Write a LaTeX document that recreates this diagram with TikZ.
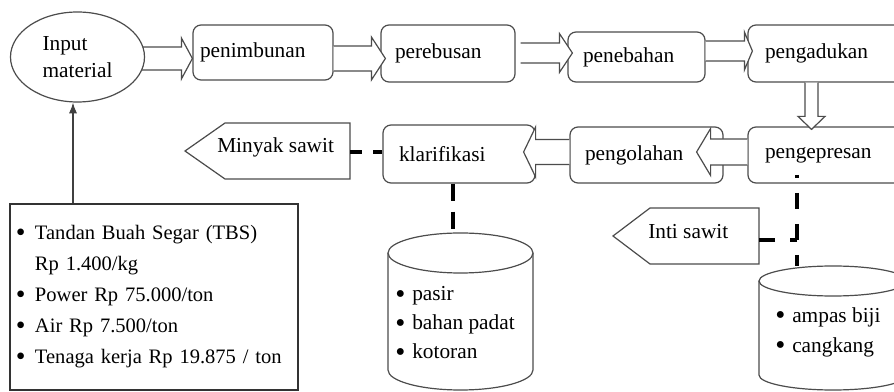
\documentclass[tikz,border=0pt]{standalone}
\usepackage{fontspec}
\setmainfont{Liberation Serif}
\usetikzlibrary{calc,arrows.meta,shapes.geometric}
\newcommand\mybul[1]{\makebox[#1][l]{\raisebox{-0.1em}{\scalebox{1.35}{•}}}}
\newcommand\barR[5]{\filldraw[blk] ($(#1)+(0,-#4)$) -- ($(#2)+(-#3,-#4)$) -- ($(#2)+(-#3,-#5)$) -- (#2) -- ($(#2)+(-#3,#5)$) -- ($(#2)+(-#3,#4)$) -- ($(#1)+(0,#4)$);}
\newcommand\barL[5]{\filldraw[blk] ($(#1)+(0,-#4)$) -- ($(#2)+(#3,-#4)$) -- ($(#2)+(#3,-#5)$) -- (#2) -- ($(#2)+(#3,#5)$) -- ($(#2)+(#3,#4)$) -- ($(#1)+(0,#4)$);}
\newcommand\barD[5]{\filldraw[blk] ($(#1)+(-#4,0)$) -- ($(#2)+(-#4,-#3)$) -- ($(#2)+(-#5,-#3)$) -- (#2) -- ($(#2)+(#5,-#3)$) -- ($(#2)+(#4,-#3)$) -- ($(#1)+(#4,0)$);}
\begin{document}
\begin{tikzpicture}[x=0.75pt,y=-0.75pt,
  every node/.style={font=\fontsize{16}{20}\selectfont, text=black},
  proc/.style={draw=black!70, line width=0.9pt, rounded corners=6pt, fill=white, align=left, inner ysep=0pt},
  blk/.style={draw=black!70, line width=0.9pt, fill=white, line join=miter},
  outl/.style={draw=black!70, line width=0.9pt, fill=white},
  dsh/.style={line width=2.3pt, draw=black},
]
\useasboundingbox (0,0) rectangle (894,392);
\clip (0,0) rectangle (894,392);
\fill[white] (0,0) rectangle (894,392);

% process boxes
\node[proc, minimum height=41.25pt, text width=94.5pt, inner xsep=5.25pt] (pnb) at (263,52.5) {penimbunan};
\node[proc, minimum height=42.75pt, text width=79.5pt, inner xsep=10.5pt] (pere) at (448,53.5) {perebusan};
\node[proc, minimum height=37.5pt, text width=80.25pt, inner xsep=11.25pt] (pebh) at (636.5,57) {penebahan};
\node[proc, minimum height=42.75pt, text width=111pt, inner xsep=12.75pt] (padk) at (839,53.5) {pengadukan};
\node[proc, minimum height=42pt, text width=111pt, inner xsep=12.75pt] (prs) at (839,155) {pengepresan};
\node[proc, minimum height=42pt, text width=92.25pt, inner xsep=11.25pt] (olh) at (646.5,155) {pengolahan};
\node[proc, minimum height=43.5pt, text width=90pt, inner xsep=12pt] (klar) at (459,154) {klarifikasi};

% block arrows
\coordinate (a1s) at (138,58.5);
\coordinate (a1t) at (pnb.west |- 0,58.5);
\barR{a1s}{a1t}{11}{11.5}{20.5}

\node[outl, ellipse, minimum width=100.5pt, minimum height=67.5pt, align=left, inner sep=0pt] (inp) at (77.5,57) {Input\\material};

\coordinate (a2s) at (pnb.east |- 0,58.5);
\coordinate (a2t) at ($(pere.west |- 0,58.5)+(5,0)$);
\barR{a2s}{a2t}{14}{12.5}{21.5}

\coordinate (a3s) at ($(pere.east |- 0,53)+(5,0)$);
\coordinate (a3t) at ($(pebh.west |- 0,53)+(5,0)$);
\barR{a3s}{a3t}{13}{10}{19.5}

\coordinate (a4s) at (pebh.east |- 0,51);
\coordinate (a4t) at ($(padk.west |- 0,51)+(5,0)$);
\barR{a4s}{a4t}{8}{10}{19}

\coordinate (a5s) at (padk.south -| 811.5,0);
\coordinate (a5t) at ($(prs.north -| 811.5,0)+(0,3)$);
\barD{a5s}{a5t}{13}{6.5}{13.5}

\coordinate (a6s) at (prs.west |- 0,152);
\coordinate (a6t) at ($(olh.east |- 0,152)+(-27,0)$);
\barL{a6s}{a6t}{14}{13}{23.5}

\coordinate (a7s) at (olh.west |- 0,152);
\coordinate (a7t) at ($(klar.east |- 0,152)+(-12,0)$);
\barL{a7s}{a7t}{12}{12.5}{25}

% input box
\node[draw=black!80, line width=0.9pt, fill=white, minimum height=139.5pt, text width=207pt, inner xsep=4.5pt, align=left, font=\fontsize{15.4}{23.25}\selectfont] (inbox) at (154,297)
 {\mybul{14.25pt}Tandan Buah Segar (TBS)\\\hspace*{14.25pt}Rp 1.400/kg\\\mybul{14.25pt}Power Rp 75.000/ton\\\mybul{14.25pt}Air Rp 7.500/ton\\\mybul{14.25pt}Tenaga kerja Rp 19.875 / ton};
\coordinate (ax) at (73,0);
\draw[black!75, line width=0.9pt, -{Latex[length=8pt,width=6pt]}] (inbox.north -| ax) -- (inp.south -| ax);

% output pentagons
\filldraw[blk] (350,123) -- (225,123) -- (185,151) -- (225,179) -- (350,179) -- cycle;
\node[anchor=west, inner sep=0pt] (ms) at (217,147) {Minyak sawit};
\filldraw[blk] (759,208) -- (650,208) -- (613,236) -- (650,264) -- (759,264) -- cycle;
\node[anchor=west, inner sep=0pt] (is) at (648,232) {Inti sawit};

% cylinders
\filldraw[outl] (388,253) -- (388,370) arc[start angle=180, end angle=0, x radius=72.5, y radius=20] -- (533,253);
\draw[outl] (460.5,253) ellipse [x radius=72.5, y radius=20];
\node[anchor=west, align=left, inner sep=0pt, font=\fontsize{16}{21.75}\selectfont] (cyl1) at (395,324)
 {\mybul{12.75pt}pasir\\\mybul{12.75pt}bahan padat\\\mybul{12.75pt}kotoran};
\filldraw[outl] (759,281) -- (759,375) arc[start angle=180, end angle=0, x radius=74, y radius=15] -- (907,281);
\draw[outl] (833,281) ellipse [x radius=74, y radius=15];
\node[anchor=west, align=left, inner sep=0pt, font=\fontsize{16}{22.5}\selectfont] (cyl2) at (775,332)
 {\mybul{12.75pt}ampas biji\\\mybul{12.75pt}cangkang};

% dashed connectors
\coordinate (msr) at (350,152);
\draw[dsh, dash pattern=on 9pt off 8.25pt] (msr) -- (msr -| klar.west);
\coordinate (c1top) at (453,233);
\draw[dsh, dash pattern=on 12.75pt off 8.25pt] (c1top |- klar.south) -- (c1top);
\coordinate (pp) at (797,175);
\coordinate (crn) at (797,240);
\coordinate (c2top) at (797,266);
\coordinate (isr) at (759,240);
\draw[dsh, dash pattern=on 12pt off 11.25pt, dash phase=9.75pt] (pp) -- (c2top);
\draw[dsh, dash pattern=on 12pt off 11.25pt, dash phase=6.75pt] (crn) -- (isr);
\end{tikzpicture}
\end{document}
